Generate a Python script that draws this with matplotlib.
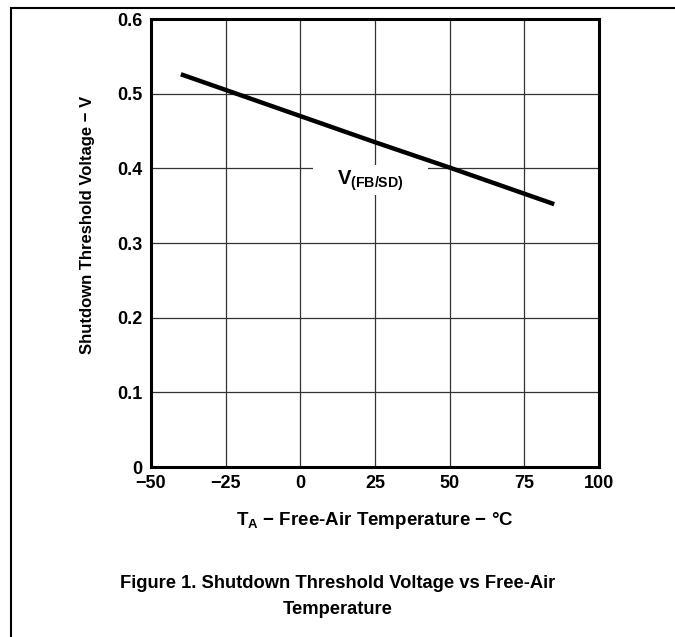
from matplotlib import pyplot as plt
from matplotlib.patches import Rectangle

# Shutdown threshold voltage vs free-air temperature
temp = [-40, 0, 25, 50, 85]
vfb = [0.526, 0.470, 0.435, 0.401, 0.352]

xticks = [-50, -25, 0, 25, 50, 75, 100]
xticklabels = ['\u221250', '\u221225', '0', '25', '50', '75', '100']
yticks = [0, 0.1, 0.2, 0.3, 0.4, 0.5, 0.6]
yticklabels = ['0', '0.1', '0.2', '0.3', '0.4', '0.5', '0.6']

plt.rcParams['font.family'] = ['Liberation Sans', 'DejaVu Sans']
plt.rcParams['font.weight'] = 'bold'
plt.rcParams['axes.labelweight'] = 'bold'
plt.rcParams['mathtext.fontset'] = 'custom'
plt.rcParams['mathtext.rm'] = 'Liberation Sans:bold'
plt.rcParams['mathtext.default'] = 'rm'

W, H = 675, 637
fig = plt.figure(figsize=(W / 100, H / 100), dpi=100)
ax = fig.add_axes([151 / W, 1 - 467 / H, 448 / W, 448 / H])

# outer frame (only top and left edges fall inside the picture)
fig.patches.append(Rectangle((10.5 / W, -0.1), 1.2, 1.1 - 8 / H,
                             transform=fig.transFigure, fill=False,
                             edgecolor='black', linewidth=1.5))

ax.plot(temp, vfb, color='black', linewidth=3.2, solid_capstyle='butt', zorder=3)

ax.set_xlim(-50, 100)
ax.set_ylim(0, 0.6)
ax.set_xticks(xticks)
ax.set_xticklabels(xticklabels)
ax.set_yticks(yticks)
ax.set_yticklabels(yticklabels)
ax.tick_params(length=0, labelsize=13, pad=6)
for s in ax.spines.values():
    s.set_linewidth(2.2)
ax.grid(True, color='#333333', linewidth=0.9)
ax.set_axisbelow(True)

# white gap in the grid behind the curve label
ax.add_patch(Rectangle((4.2, 0.3643), 38.5, 0.0402, facecolor='white',
                       edgecolor='none', zorder=1.5))
ax.text(23.3, 0.383, 'V$_{(FB/SD)}$', fontsize=14.5, ha='center', va='center',
        zorder=2)

ax.set_xlabel('T$_{A}$ \u2212 Free-Air Temperature \u2212 \u00b0C', fontsize=13.5, labelpad=13)
ax.set_ylabel('Shutdown Threshold Voltage \u2212 V', fontsize=12, labelpad=16)
ax.yaxis.label.set_y(0.54)

fig.text(338 / W, 1 - 583 / H, 'Figure 1. Shutdown Threshold Voltage vs Free-Air',
         fontsize=13.2, ha='center', va='center')
fig.text(338 / W, 1 - 609 / H, 'Temperature', fontsize=13.2, ha='center', va='center')

plt.savefig('out.png', dpi=100)
